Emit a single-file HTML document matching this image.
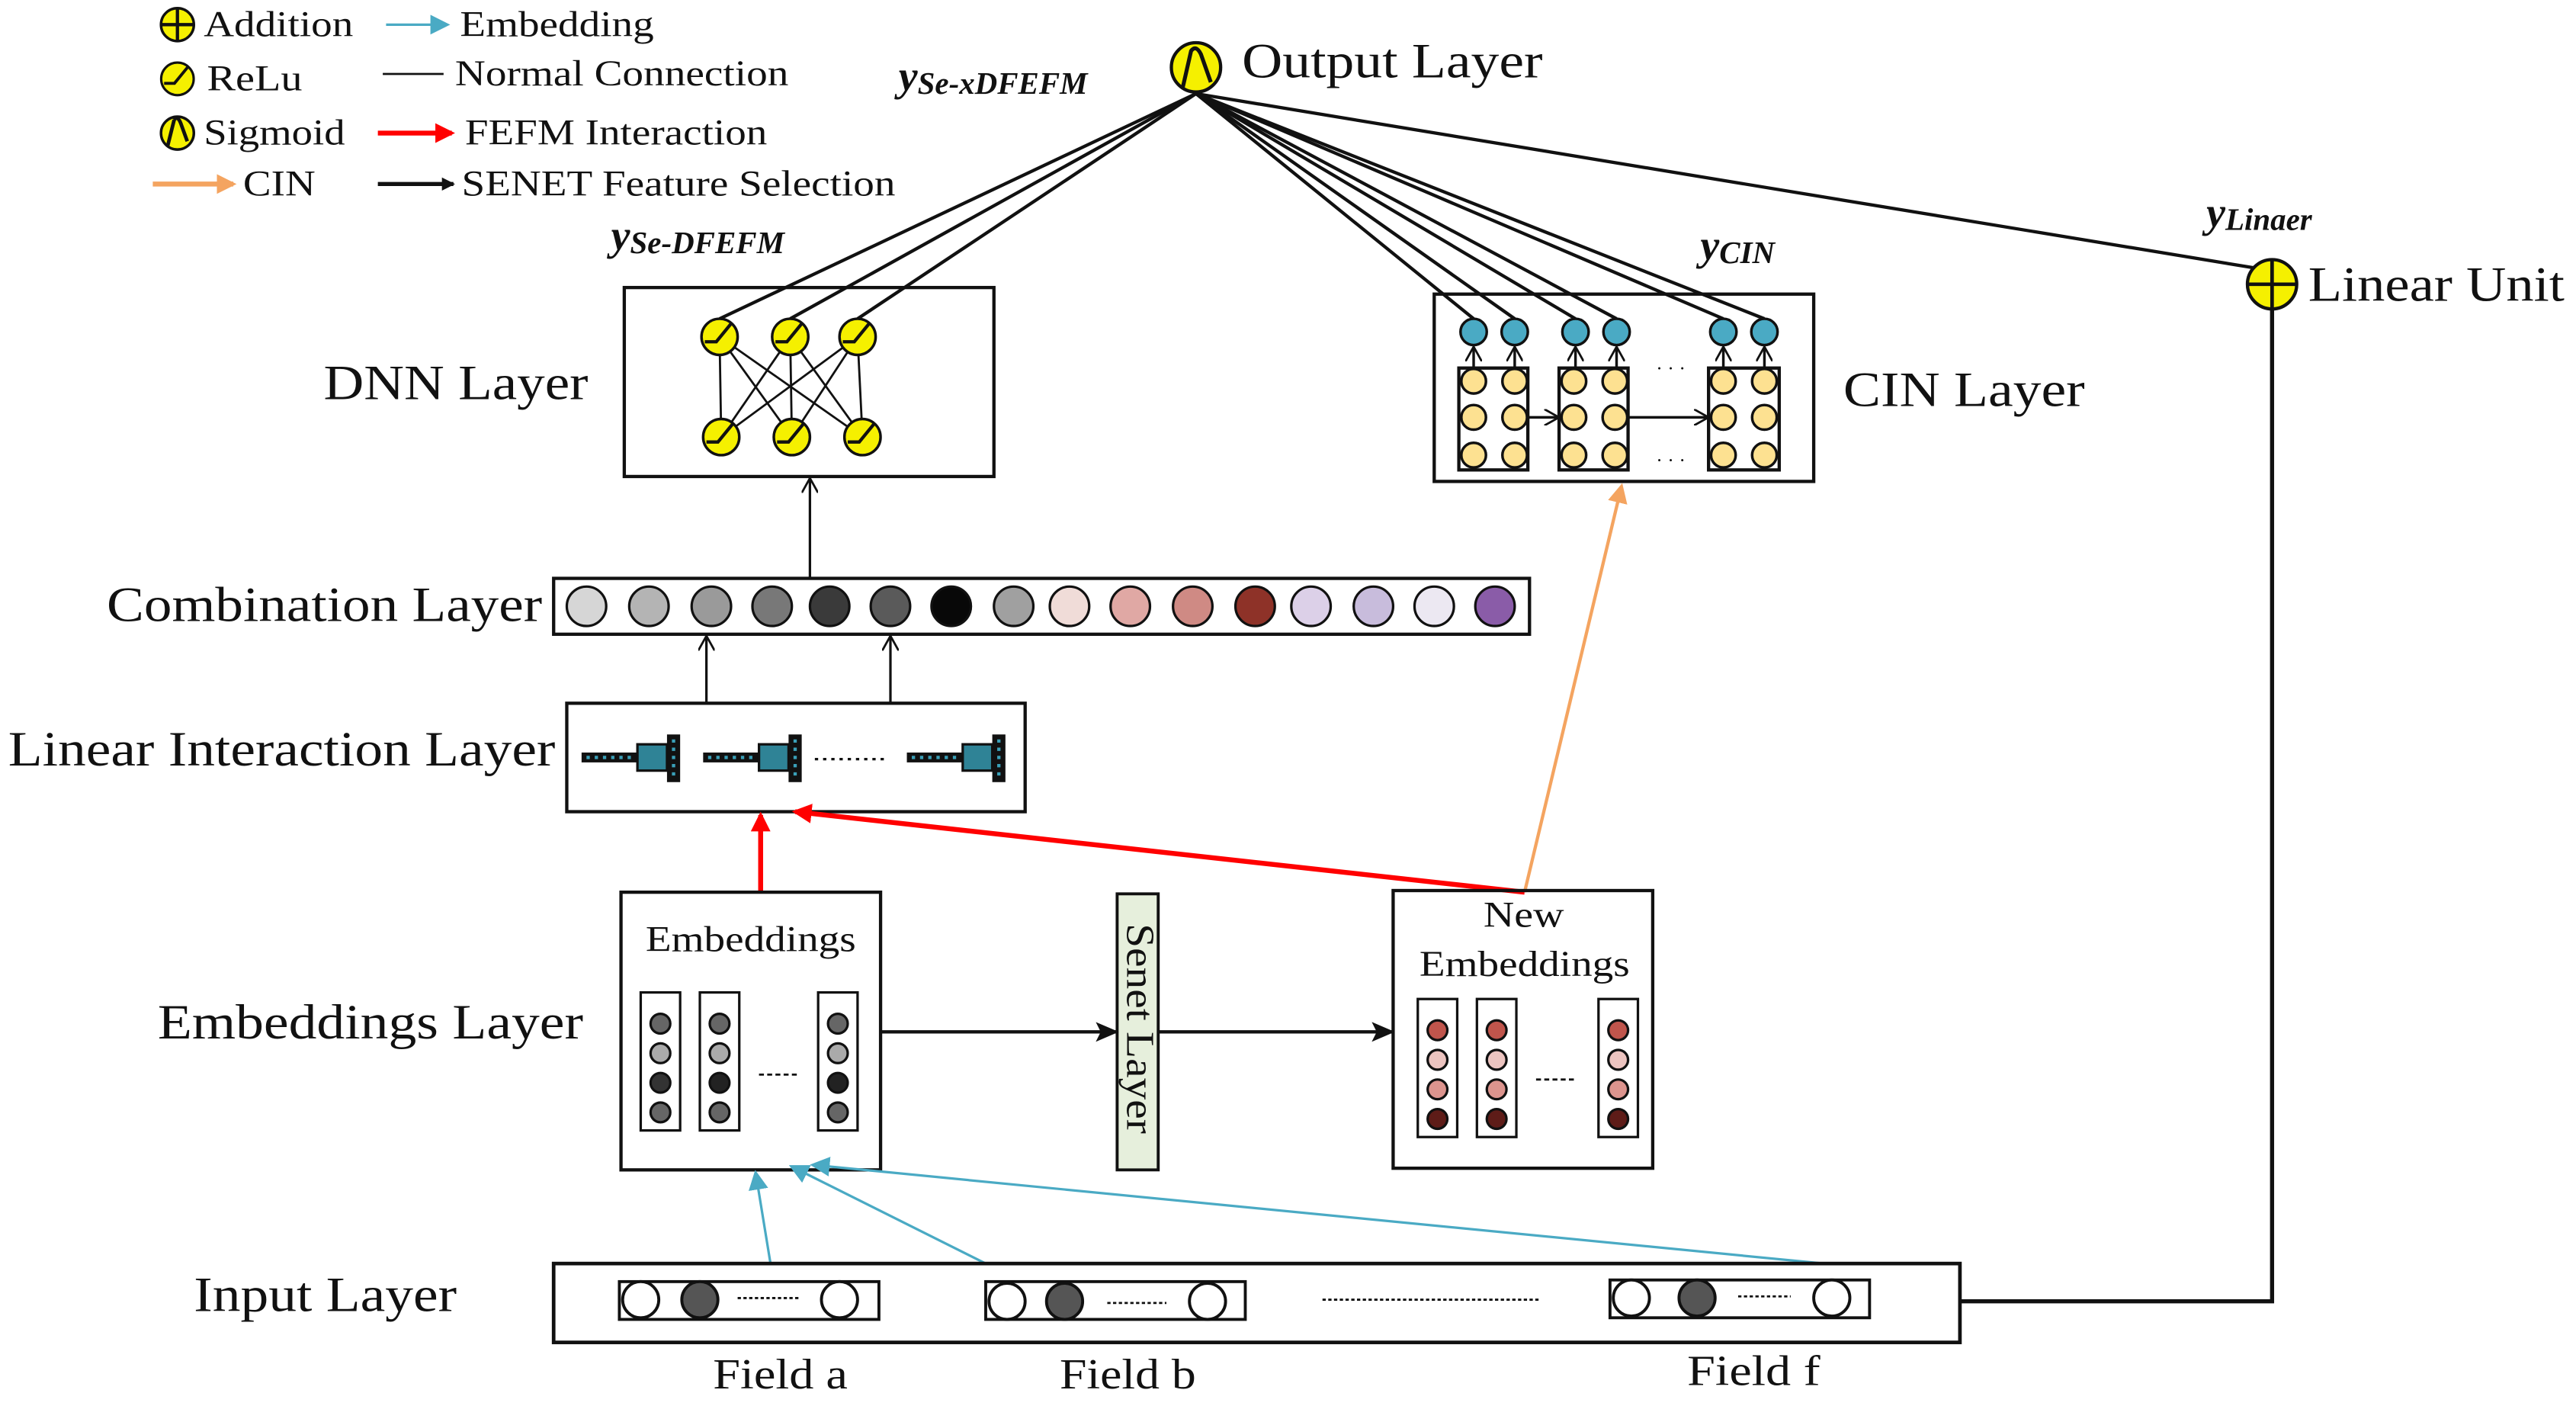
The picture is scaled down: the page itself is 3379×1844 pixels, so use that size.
<!DOCTYPE html>
<html><head><meta charset="utf-8"><style>
html,body{margin:0;padding:0;background:#fff;}
svg{display:block;}
text{font-family:"Liberation Serif","DejaVu Serif",serif;fill:#111;}
</style></head><body>
<svg width="3379" height="1844" viewBox="0 0 1568 855.7" preserveAspectRatio="none" xmlns="http://www.w3.org/2000/svg">
<defs>
<marker id="ab" markerWidth="8" markerHeight="8" refX="7" refY="4" orient="auto" markerUnits="userSpaceOnUse"><path d="M0,0 L8,4 L0,8 z" fill="#111"/></marker>
<marker id="ar" markerWidth="12" markerHeight="12" refX="10" refY="6" orient="auto" markerUnits="userSpaceOnUse"><path d="M0,0 L12,6 L0,12 z" fill="#f00"/></marker>
<marker id="abl" markerWidth="12" markerHeight="12" refX="10" refY="6" orient="auto" markerUnits="userSpaceOnUse"><path d="M0,0 L12,6 L0,12 z" fill="#4aaac4"/></marker>
<marker id="ao" markerWidth="12" markerHeight="12" refX="10" refY="6" orient="auto" markerUnits="userSpaceOnUse"><path d="M0,0 L12,6 L0,12 z" fill="#f4a460"/></marker>
<marker id="aopen" markerWidth="10" markerHeight="10" refX="9" refY="5" orient="auto" markerUnits="userSpaceOnUse"><path d="M0,0 L9,5 L0,10" fill="none" stroke="#111" stroke-width="1.3"/></marker>
<marker id="abig" markerWidth="14" markerHeight="14" refX="13" refY="7" orient="auto" markerUnits="userSpaceOnUse"><path d="M0,1 L14,7 L0,13 L3,7 z" fill="#111"/></marker>
<g id="relu"><circle r="11" fill="#f5f000" stroke="#111" stroke-width="1.6"/><path d="M-9,3 L-2,3 L7,-8" fill="none" stroke="#111" stroke-width="2"/></g>
</defs>

<!-- Legend -->
<circle cx="108" cy="15" r="10" fill="#f5f000" stroke="#111" stroke-width="1.6"/><path d="M98,15 H118 M108,5 V25" stroke="#111" stroke-width="2"/>
<text x="124" y="22" font-size="22" textLength="91" lengthAdjust="spacingAndGlyphs">Addition</text>
<line x1="235" y1="15" x2="272" y2="15" stroke="#4aaac4" stroke-width="1.5" marker-end="url(#abl)"/>
<text x="280" y="22" font-size="22" textLength="118" lengthAdjust="spacingAndGlyphs">Embedding</text>
<g transform="translate(108,48) scale(0.9)"><use href="#relu"/></g>
<text x="126" y="55" font-size="22" textLength="58" lengthAdjust="spacingAndGlyphs">ReLu</text>
<line x1="233" y1="45" x2="270" y2="45" stroke="#111" stroke-width="1.3"/>
<text x="277" y="52" font-size="22" textLength="203" lengthAdjust="spacingAndGlyphs">Normal Connection</text>
<circle cx="108" cy="81" r="10" fill="#f5f000" stroke="#111" stroke-width="1.6"/><path d="M102,89 L106,73 M106,73 Q108,70 110,75 L114,86" fill="none" stroke="#111" stroke-width="2.2"/>
<text x="124" y="88" font-size="22" textLength="86" lengthAdjust="spacingAndGlyphs">Sigmoid</text>
<line x1="230" y1="81" x2="275" y2="81" stroke="#f00" stroke-width="3" marker-end="url(#ar)"/>
<text x="283" y="88" font-size="22" textLength="184" lengthAdjust="spacingAndGlyphs">FEFM Interaction</text>
<line x1="93" y1="112" x2="142" y2="112" stroke="#f4a460" stroke-width="3" marker-end="url(#ao)"/>
<text x="148" y="119" font-size="22" textLength="44" lengthAdjust="spacingAndGlyphs">CIN</text>
<line x1="230" y1="112" x2="276" y2="112" stroke="#111" stroke-width="2.5" marker-end="url(#ab)"/>
<text x="281" y="119" font-size="22" textLength="264" lengthAdjust="spacingAndGlyphs">SENET Feature Selection</text>

<!-- Output -->
<g stroke="#111" stroke-width="2" fill="none">
<line x1="728" y1="57" x2="438" y2="194"/><line x1="728" y1="57" x2="481" y2="194"/><line x1="728" y1="57" x2="522" y2="194"/>
<line x1="728" y1="57" x2="897" y2="194"/><line x1="728" y1="57" x2="922" y2="194"/><line x1="728" y1="57" x2="959" y2="194"/><line x1="728" y1="57" x2="984" y2="194"/><line x1="728" y1="57" x2="1049" y2="194"/><line x1="728" y1="57" x2="1074" y2="194"/>
<line x1="728" y1="57" x2="1372" y2="163"/>
</g>
<circle cx="728" cy="41" r="15" fill="#f5f000" stroke="#111" stroke-width="2"/>
<path d="M720,53 L725,31 Q728,27 731,33 L737,50" fill="none" stroke="#111" stroke-width="2.4"/>
<text x="756" y="47" font-size="30" textLength="183" lengthAdjust="spacingAndGlyphs">Output Layer</text>
<text x="547" y="55" font-size="26" font-style="italic" font-weight="bold">y<tspan font-size="19" dy="2">Se-xDFEFM</tspan></text>
<text x="372" y="152" font-size="26" font-style="italic" font-weight="bold">y<tspan font-size="19" dy="2">Se-DFEFM</tspan></text>
<text x="1035" y="158" font-size="26" font-style="italic" font-weight="bold">y<tspan font-size="19" dy="2">CIN</tspan></text>
<text x="1343" y="138" font-size="26" font-style="italic" font-weight="bold">y<tspan font-size="19" dy="2">Linaer</tspan></text>

<!-- DNN -->
<rect x="380" y="175" width="225" height="115" fill="none" stroke="#111" stroke-width="2"/>
<text x="197" y="243" font-size="30" textLength="161" lengthAdjust="spacingAndGlyphs">DNN Layer</text>
<g stroke="#111" stroke-width="1.3">
<line x1="438" y1="205" x2="439" y2="266"/><line x1="438" y1="205" x2="482" y2="266"/><line x1="438" y1="205" x2="525" y2="266"/>
<line x1="481" y1="205" x2="439" y2="266"/><line x1="481" y1="205" x2="482" y2="266"/><line x1="481" y1="205" x2="525" y2="266"/>
<line x1="522" y1="205" x2="439" y2="266"/><line x1="522" y1="205" x2="482" y2="266"/><line x1="522" y1="205" x2="525" y2="266"/>
</g>
<use href="#relu" x="438" y="205"/><use href="#relu" x="481" y="205"/><use href="#relu" x="522" y="205"/>
<use href="#relu" x="439" y="266"/><use href="#relu" x="482" y="266"/><use href="#relu" x="525" y="266"/>

<!-- CIN -->
<rect x="873" y="179" width="231" height="114" fill="none" stroke="#111" stroke-width="2"/>
<text x="1122" y="247" font-size="30" textLength="147" lengthAdjust="spacingAndGlyphs">CIN Layer</text>
<g stroke="#111" stroke-width="1.6">
<rect x="888" y="224" width="42" height="62" fill="none" stroke-width="2"/>
<rect x="949" y="224" width="42" height="62" fill="none" stroke-width="2"/>
<rect x="1040" y="224" width="43" height="62" fill="none" stroke-width="2"/>
<line x1="930" y1="254" x2="949" y2="254" marker-end="url(#aopen)"/>
<line x1="991" y1="254" x2="1040" y2="254" marker-end="url(#aopen)"/>
<g fill="#fde191">
<circle cx="897" cy="232" r="7.5"/><circle cx="922" cy="232" r="7.5"/><circle cx="897" cy="254" r="7.5"/><circle cx="922" cy="254" r="7.5"/><circle cx="897" cy="277" r="7.5"/><circle cx="922" cy="277" r="7.5"/>
<circle cx="958" cy="232" r="7.5"/><circle cx="983" cy="232" r="7.5"/><circle cx="958" cy="254" r="7.5"/><circle cx="983" cy="254" r="7.5"/><circle cx="958" cy="277" r="7.5"/><circle cx="983" cy="277" r="7.5"/>
<circle cx="1049" cy="232" r="7.5"/><circle cx="1074" cy="232" r="7.5"/><circle cx="1049" cy="254" r="7.5"/><circle cx="1074" cy="254" r="7.5"/><circle cx="1049" cy="277" r="7.5"/><circle cx="1074" cy="277" r="7.5"/>
</g>
<line x1="897" y1="224" x2="897" y2="211" marker-end="url(#aopen)"/><line x1="922" y1="224" x2="922" y2="211" marker-end="url(#aopen)"/>
<line x1="959" y1="224" x2="959" y2="211" marker-end="url(#aopen)"/><line x1="984" y1="224" x2="984" y2="211" marker-end="url(#aopen)"/>
<line x1="1049" y1="224" x2="1049" y2="211" marker-end="url(#aopen)"/><line x1="1074" y1="224" x2="1074" y2="211" marker-end="url(#aopen)"/>
<g fill="#4aaac4">
<circle cx="897" cy="202" r="8"/><circle cx="922" cy="202" r="8"/><circle cx="959" cy="202" r="8"/><circle cx="984" cy="202" r="8"/><circle cx="1049" cy="202" r="8"/><circle cx="1074" cy="202" r="8"/>
</g>
</g>
<text x="1008" y="228" font-size="12">· · ·</text>
<text x="1008" y="284" font-size="12">· · ·</text>

<!-- Linear unit -->
<polyline points="1383,188 1383,792 1193,792" fill="none" stroke="#111" stroke-width="2.5"/>
<circle cx="1383" cy="173" r="15" fill="#f5f000" stroke="#111" stroke-width="2"/><path d="M1368,173 H1398 M1383,158 V188" stroke="#111" stroke-width="2.2"/>
<text x="1405" y="183" font-size="30" textLength="156" lengthAdjust="spacingAndGlyphs">Linear Unit</text>

<!-- Combination -->
<rect x="337" y="352" width="594" height="34" fill="none" stroke="#111" stroke-width="2"/>
<text x="65" y="378" font-size="30" textLength="265" lengthAdjust="spacingAndGlyphs">Combination Layer</text>
<g stroke="#111" stroke-width="1.5">
<circle cx="357" cy="369" r="12" fill="#d6d6d6"/><circle cx="395" cy="369" r="12" fill="#b4b4b4"/><circle cx="433" cy="369" r="12" fill="#9a9a9a"/><circle cx="470" cy="369" r="12" fill="#787878"/><circle cx="505" cy="369" r="12" fill="#3a3a3a"/><circle cx="542" cy="369" r="12" fill="#5a5a5a"/><circle cx="579" cy="369" r="12" fill="#080808"/><circle cx="617" cy="369" r="12" fill="#a0a0a0"/><circle cx="651" cy="369" r="12" fill="#f0dcd8"/><circle cx="688" cy="369" r="12" fill="#e0a8a4"/><circle cx="726" cy="369" r="12" fill="#cf8a84"/><circle cx="764" cy="369" r="12" fill="#8e3228"/><circle cx="798" cy="369" r="12" fill="#dcd0e8"/><circle cx="836" cy="369" r="12" fill="#c8bcdc"/><circle cx="873" cy="369" r="12" fill="#ece8f2"/><circle cx="910" cy="369" r="12" fill="#8a5ca8"/>
</g>
<line x1="493" y1="352" x2="493" y2="291" stroke="#111" stroke-width="1.5" marker-end="url(#aopen)"/>

<!-- Linear interaction -->
<rect x="345" y="428" width="279" height="66" fill="none" stroke="#111" stroke-width="2"/>
<text x="5" y="466" font-size="30" textLength="333" lengthAdjust="spacingAndGlyphs">Linear Interaction Layer</text>
<line x1="430" y1="428" x2="430" y2="387" stroke="#111" stroke-width="1.5" marker-end="url(#aopen)"/>
<line x1="542" y1="428" x2="542" y2="387" stroke="#111" stroke-width="1.5" marker-end="url(#aopen)"/>
<g id="li">
<rect x="354" y="458" width="35" height="6" fill="#111"/>
<line x1="357" y1="461" x2="386" y2="461" stroke="#3aa0b8" stroke-width="2" stroke-dasharray="2,3"/>
<rect x="388" y="453" width="18" height="16" fill="#2f8396" stroke="#111" stroke-width="1.5"/>
<rect x="406" y="447" width="8" height="29" fill="#111"/>
<line x1="410" y1="450" x2="410" y2="474" stroke="#3aa0b8" stroke-width="2" stroke-dasharray="2,3"/>
</g>
<use href="#li" x="74" y="0"/><use href="#li" x="198" y="0"/>
<line x1="496" y1="462" x2="540" y2="462" stroke="#111" stroke-width="1.5" stroke-dasharray="2,3"/>

<!-- red / orange -->
<line x1="463" y1="543" x2="463" y2="496" stroke="#f00" stroke-width="3" marker-end="url(#ar)"/>
<line x1="928" y1="543" x2="484" y2="494" stroke="#f00" stroke-width="3" marker-end="url(#ar)"/>
<line x1="928" y1="543" x2="987" y2="296" stroke="#f4a460" stroke-width="2" marker-end="url(#ao)"/>

<!-- Embeddings -->
<rect x="378" y="543" width="158" height="169" fill="none" stroke="#111" stroke-width="2"/>
<text x="393" y="579" font-size="22" textLength="128" lengthAdjust="spacingAndGlyphs">Embeddings</text>
<text x="96" y="632" font-size="30" textLength="259" lengthAdjust="spacingAndGlyphs">Embeddings Layer</text>
<g stroke="#111" stroke-width="1.5">
<rect x="390" y="604" width="24" height="84" fill="none"/><rect x="426" y="604" width="24" height="84" fill="none"/><rect x="498" y="604" width="24" height="84" fill="none"/>
<circle cx="402" cy="623" r="6" fill="#666"/><circle cx="402" cy="641" r="6" fill="#aaa"/><circle cx="402" cy="659" r="6" fill="#333"/><circle cx="402" cy="677" r="6" fill="#666"/>
<circle cx="438" cy="623" r="6" fill="#666"/><circle cx="438" cy="641" r="6" fill="#aaa"/><circle cx="438" cy="659" r="6" fill="#222"/><circle cx="438" cy="677" r="6" fill="#666"/>
<circle cx="510" cy="623" r="6" fill="#666"/><circle cx="510" cy="641" r="6" fill="#aaa"/><circle cx="510" cy="659" r="6" fill="#222"/><circle cx="510" cy="677" r="6" fill="#666"/>
</g>
<line x1="462" y1="654" x2="485" y2="654" stroke="#111" stroke-width="1.3" stroke-dasharray="3,2"/>

<rect x="680" y="544" width="25" height="168" fill="#e6efdc" stroke="#111" stroke-width="1.8"/>
<text transform="translate(686,562) rotate(90)" font-size="24" textLength="128" lengthAdjust="spacingAndGlyphs">Senet  Layer</text>
<line x1="536" y1="628" x2="680" y2="628" stroke="#111" stroke-width="2" marker-end="url(#abig)"/>
<line x1="705" y1="628" x2="848" y2="628" stroke="#111" stroke-width="2" marker-end="url(#abig)"/>

<rect x="848" y="542" width="158" height="169" fill="none" stroke="#111" stroke-width="2"/>
<text x="903" y="564" font-size="22" textLength="49" lengthAdjust="spacingAndGlyphs">New</text>
<text x="864" y="594" font-size="22" textLength="128" lengthAdjust="spacingAndGlyphs">Embeddings</text>
<g stroke="#111" stroke-width="1.5">
<rect x="863" y="608" width="24" height="84" fill="none"/><rect x="899" y="608" width="24" height="84" fill="none"/><rect x="973" y="608" width="24" height="84" fill="none"/>
<circle cx="875" cy="627" r="6" fill="#c0554c"/><circle cx="875" cy="645" r="6" fill="#ecc4c0"/><circle cx="875" cy="663" r="6" fill="#dc948e"/><circle cx="875" cy="681" r="6" fill="#5e1c18"/>
<circle cx="911" cy="627" r="6" fill="#c0554c"/><circle cx="911" cy="645" r="6" fill="#ecc4c0"/><circle cx="911" cy="663" r="6" fill="#dc948e"/><circle cx="911" cy="681" r="6" fill="#5e1c18"/>
<circle cx="985" cy="627" r="6" fill="#c0554c"/><circle cx="985" cy="645" r="6" fill="#ecc4c0"/><circle cx="985" cy="663" r="6" fill="#dc948e"/><circle cx="985" cy="681" r="6" fill="#5e1c18"/>
</g>
<line x1="935" y1="657" x2="958" y2="657" stroke="#111" stroke-width="1.3" stroke-dasharray="3,2"/>

<!-- blue embedding arrows -->
<line x1="469" y1="769" x2="460" y2="714" stroke="#4aaac4" stroke-width="1.5" marker-end="url(#abl)"/>
<line x1="600" y1="769" x2="482" y2="710" stroke="#4aaac4" stroke-width="1.5" marker-end="url(#abl)"/>
<line x1="1110" y1="769" x2="495" y2="709" stroke="#4aaac4" stroke-width="1.5" marker-end="url(#abl)"/>

<!-- Input -->
<rect x="337" y="769" width="856" height="48" fill="none" stroke="#111" stroke-width="2.2"/>
<text x="118" y="798" font-size="30" textLength="160" lengthAdjust="spacingAndGlyphs">Input Layer</text>
<g stroke="#111" stroke-width="1.8">
<rect x="377" y="780" width="158" height="23" fill="none"/><circle cx="390" cy="791" r="11" fill="#fff"/><circle cx="426" cy="791" r="11" fill="#555"/><circle cx="511" cy="791" r="11" fill="#fff"/>
<rect x="600" y="780" width="158" height="23" fill="none"/><circle cx="613" cy="792" r="11" fill="#fff"/><circle cx="648" cy="792" r="11" fill="#555"/><circle cx="735" cy="792" r="11" fill="#fff"/>
<rect x="980" y="779" width="158" height="23" fill="none"/><circle cx="993" cy="790" r="11" fill="#fff"/><circle cx="1033" cy="790" r="11" fill="#555"/><circle cx="1115" cy="790" r="11" fill="#fff"/>
</g>
<g stroke="#111" stroke-width="1.3" stroke-dasharray="2,1.5">
<line x1="449" y1="790" x2="486" y2="790"/><line x1="674" y1="793" x2="710" y2="793"/><line x1="1058" y1="789" x2="1090" y2="789"/><line x1="805" y1="791" x2="938" y2="791"/>
</g>
<text x="434" y="845" font-size="26" textLength="82" lengthAdjust="spacingAndGlyphs">Field a</text>
<text x="645" y="845" font-size="26" textLength="83" lengthAdjust="spacingAndGlyphs">Field b</text>
<text x="1027" y="843" font-size="26" textLength="81" lengthAdjust="spacingAndGlyphs">Field f</text>
</svg>
</body></html>
